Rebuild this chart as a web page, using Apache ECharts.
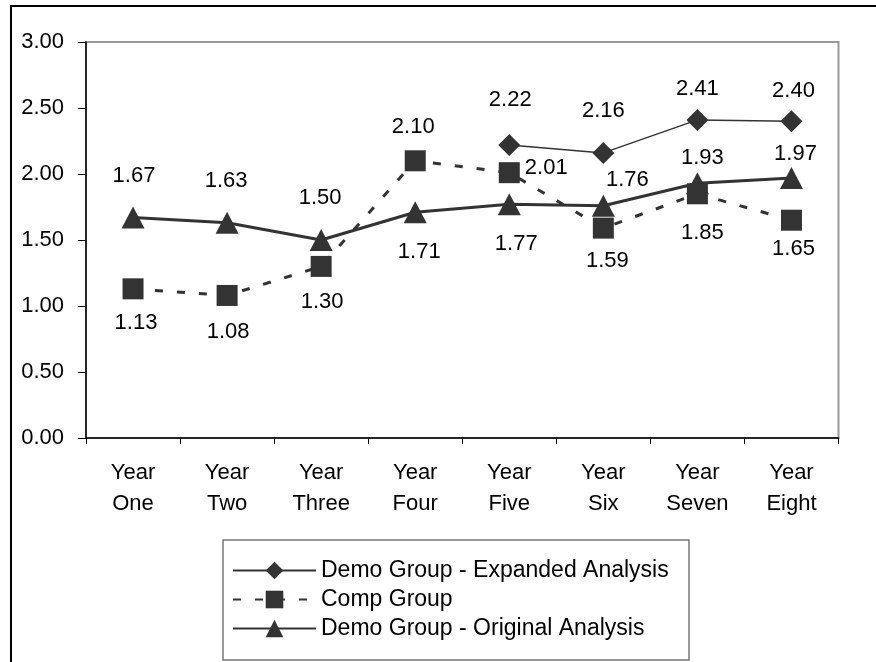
<!DOCTYPE html>
<html>
<head>
<meta charset="utf-8">
<script src="https://cdn.jsdelivr.net/npm/echarts@6/dist/echarts.min.js"></script>
<style>
  html, body { margin: 0; padding: 0; background: #fff; }
  #chart { width: 876px; height: 662px; }
</style>
</head>
<body>
<div id="chart"></div>
<script>
// Categories along the x axis
const years = ['Year\nOne', 'Year\nTwo', 'Year\nThree', 'Year\nFour', 'Year\nFive', 'Year\nSix', 'Year\nSeven', 'Year\nEight'];

// Series values (null where a group has no measurement)
const demoExpanded = [null, null, null, null, 2.22, 2.16, 2.41, 2.40];
const compGroup    = [1.13, 1.08, 1.30, 2.10, 2.01, 1.59, 1.85, 1.65];
const demoOriginal = [1.67, 1.63, 1.50, 1.71, 1.77, 1.76, 1.93, 1.97];

// Y axis range and step
const yMin = 0, yMax = 3, yStep = 0.5;

// Value label placement, offset from each marker's centre [dx, dy]
const expandedLabelOffsets = [null, null, null, null, [1, -45], [0, -42], [0, -31], [2, -30]];
const compLabelOffsets     = [[3, 34], [1, 36], [1, 36], [-2, -34], [37, -5], [4, 33], [5, 39], [2, 29]];
const originalLabelOffsets = [[1, -42], [-1, -42], [-1, -42], [4, 40], [7, 40], [24, -26], [5, -25], [4, -24]];

const FONT = 'Liberation Sans, Arial, sans-serif';
const INK = '#333333';

function withLabels(values, offsets) {
  return values.map((v, i) => {
    if (v === null) return null;
    return {
      value: v,
      label: {
        show: true,
        position: 'inside',
        offset: offsets[i],
        formatter: p => Number(p.value).toFixed(2),
        fontFamily: FONT,
        fontSize: 22,
        color: '#000'
      }
    };
  });
}

const chart = echarts.init(document.getElementById('chart'), null, { renderer: 'canvas' });

chart.setOption({
  animation: false,
  backgroundColor: '#fff',
  textStyle: { fontFamily: FONT },
  grid: {
    left: 86, top: 42, right: 37.5, bottom: 224,
    show: true, borderColor: '#999', borderWidth: 2, backgroundColor: 'transparent'
  },
  legend: {
    orient: 'vertical',
    left: 232, top: 559,
    padding: 0,
    itemWidth: 83, itemHeight: 22, itemGap: 6,
    textStyle: { fontFamily: FONT, fontSize: 23, color: '#000', lineHeight: 23 },
    data: ['Demo Group - Expanded Analysis', 'Comp Group', 'Demo Group - Original Analysis']
  },
  xAxis: {
    type: 'category',
    data: years,
    boundaryGap: true,
    axisLine: { lineStyle: { color: '#000', width: 1.5 } },
    axisTick: { show: true, length: 6, lineStyle: { color: '#000' } },
    axisLabel: { color: '#000', fontFamily: FONT, fontSize: 22, lineHeight: 31, margin: 19, interval: 0 },
    splitLine: { show: false }
  },
  yAxis: {
    type: 'value',
    min: yMin, max: yMax, interval: yStep,
    axisLine: { show: true, lineStyle: { color: '#000', width: 1.5 } },
    axisTick: { show: true, length: 8, lineStyle: { color: '#000' } },
    axisLabel: { color: '#000', fontFamily: FONT, fontSize: 22, margin: 22, formatter: v => v.toFixed(2) },
    splitLine: { show: false }
  },
  series: [
    {
      name: 'Demo Group - Expanded Analysis',
      type: 'line',
      data: withLabels(demoExpanded, expandedLabelOffsets),
      symbol: 'diamond', symbolSize: 22,
      lineStyle: { color: INK, width: 1.5 },
      itemStyle: { color: INK, borderWidth: 0 },
      z: 2
    },
    {
      name: 'Comp Group',
      type: 'line',
      data: withLabels(compGroup, compLabelOffsets),
      symbol: 'rect', symbolSize: 21,
      lineStyle: { color: INK, width: 3, type: [8, 14] },
      itemStyle: { color: INK, borderWidth: 0 },
      z: 3
    },
    {
      name: 'Demo Group - Original Analysis',
      type: 'line',
      data: withLabels(demoOriginal, originalLabelOffsets),
      symbol: 'triangle', symbolSize: [23, 22],
      lineStyle: { color: INK, width: 3 },
      itemStyle: { color: INK, borderWidth: 0 },
      z: 4
    }
  ],
  graphic: [
    {
      type: 'polyline',
      shape: { points: [[11, 662], [11, 6], [876, 6]] },
      style: { stroke: '#000', lineWidth: 2, fill: null },
      silent: true
    },
    {
      type: 'rect',
      shape: { x: 223, y: 540, width: 466, height: 120 },
      style: { stroke: '#777', lineWidth: 1.5, fill: null },
      silent: true
    }
  ]
});
</script>
</body>
</html>
